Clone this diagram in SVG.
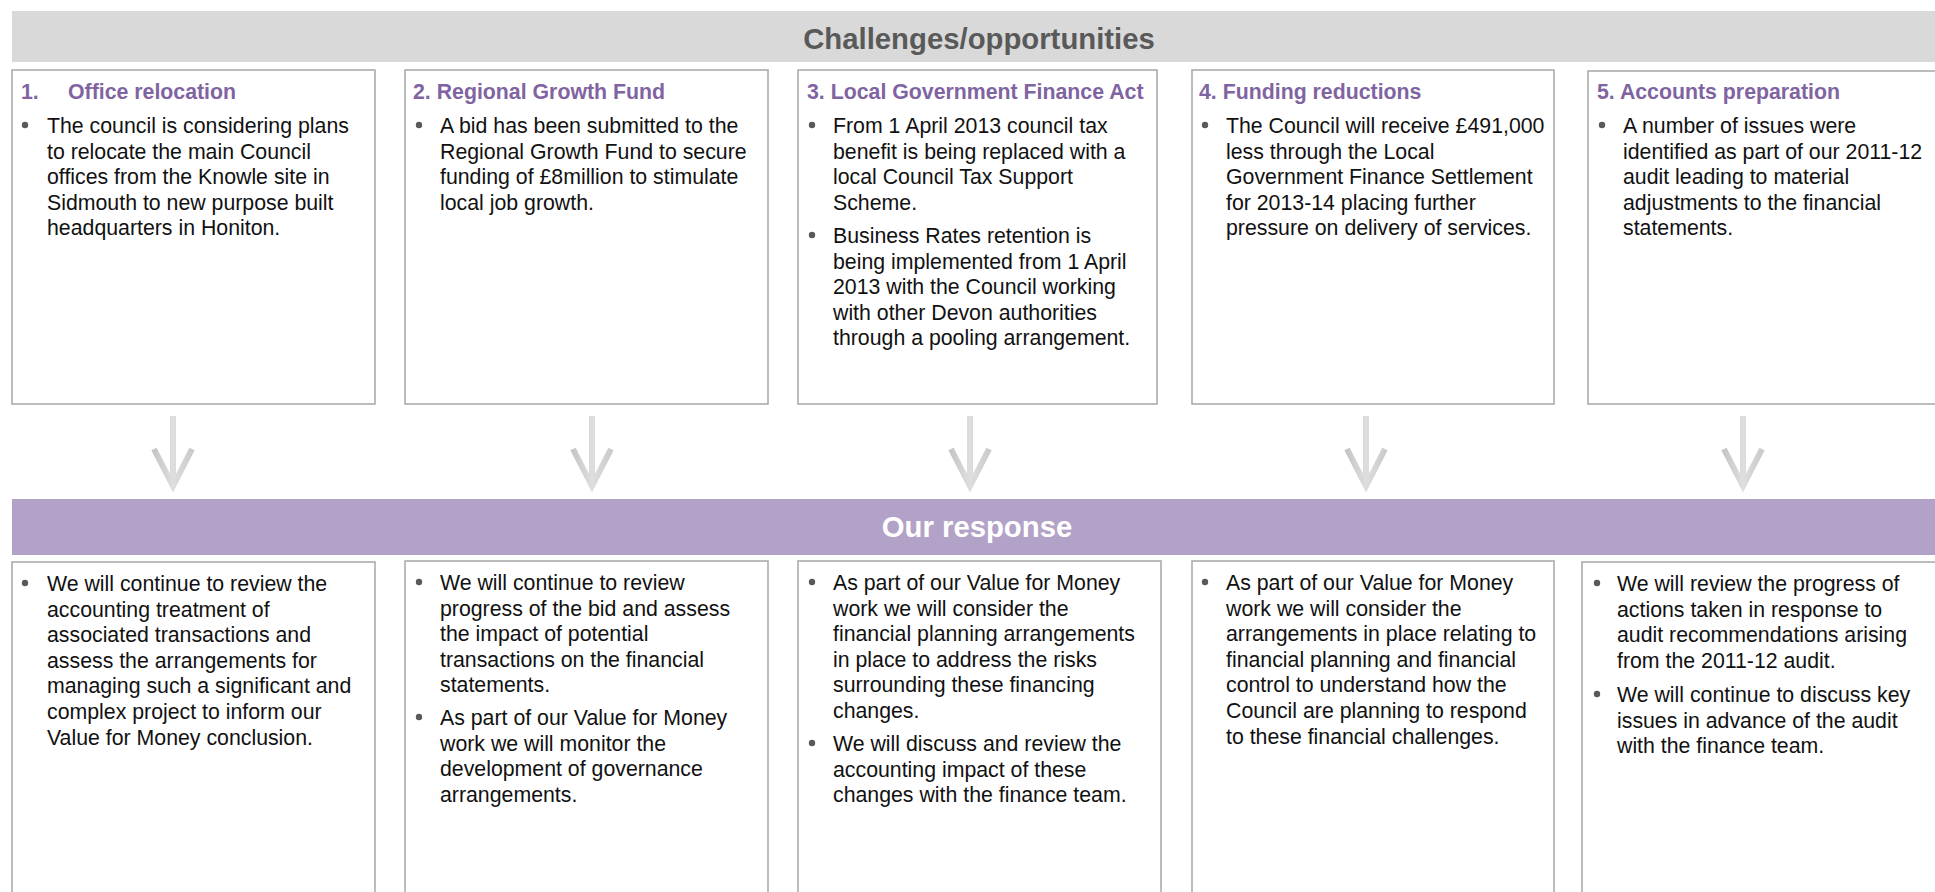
<svg xmlns="http://www.w3.org/2000/svg" width="1935" height="892" viewBox="0 0 1935 892">
  <style>
    text { font-family: "Liberation Sans", Arial, sans-serif; }
    .band-grey { fill: #d9d9d9; }
    .band-purple { fill: #b3a2c7; }
    .head { font-size: 29.3px; font-weight: bold; text-anchor: middle; }
    .head-dark { fill: #595959; }
    .head-light { fill: #ffffff; }
    .box { fill: #ffffff; stroke: #a6a6a6; stroke-width: 1.5; }
    .title { font-size: 21.3px; font-weight: bold; fill: #8064a2; }
    .body { font-size: 21.3px; fill: #111111; }
    .dot { fill: #595959; }
    .arrow { fill: none; stroke-width: 6; stroke-linejoin: miter; stroke-miterlimit: 6; }
  </style>
  <defs>
    <linearGradient id="arrowShade" x1="0" y1="0" x2="1" y2="0">
      <stop offset="0" stop-color="#c6c6c6"/>
      <stop offset="0.5" stop-color="#dedede"/>
      <stop offset="1" stop-color="#cbcbcb"/>
    </linearGradient>
  </defs>

  <rect width="1935" height="892" fill="#ffffff"/>

  <!-- heading bands -->
  <g id="band-challenges">
    <rect class="band-grey" x="12" y="11" width="1935" height="51"/>
    <text class="head head-dark" x="979" y="49">Challenges/opportunities</text>
  </g>
  <g id="band-response">
    <rect class="band-purple" x="12" y="499" width="1935" height="56"/>
    <text class="head head-light" x="977" y="537">Our response</text>
  </g>

  <!-- challenge boxes -->
  <g id="challenge-1">
    <rect class="box" x="12" y="70" width="363" height="334"/>
    <text class="title" x="21" y="99">1.</text>
    <text class="title" x="68" y="99">Office relocation</text>
    <circle class="dot" cx="25" cy="125" r="3.2"/>
    <text class="body" y="133">
      <tspan x="47">The council is considering plans</tspan>
      <tspan x="47" dy="25.6">to relocate the main Council</tspan>
      <tspan x="47" dy="25.6">offices from the Knowle site in</tspan>
      <tspan x="47" dy="25.6">Sidmouth to new purpose built</tspan>
      <tspan x="47" dy="25.6">headquarters in Honiton.</tspan>
    </text>
  </g>

  <g id="challenge-2">
    <rect class="box" x="405" y="70" width="363" height="334"/>
    <text class="title" x="413" y="99">2. Regional Growth Fund</text>
    <circle class="dot" cx="419" cy="125" r="3.2"/>
    <text class="body" y="133">
      <tspan x="440">A bid has been submitted to the</tspan>
      <tspan x="440" dy="25.6">Regional Growth Fund to secure</tspan>
      <tspan x="440" dy="25.6">funding of £8million to stimulate</tspan>
      <tspan x="440" dy="25.6">local job growth.</tspan>
    </text>
  </g>

  <g id="challenge-3">
    <rect class="box" x="798" y="70" width="359" height="334"/>
    <text class="title" x="807" y="99">3. Local Government Finance Act</text>
    <circle class="dot" cx="812" cy="125" r="3.2"/>
    <text class="body" y="133">
      <tspan x="833">From 1 April 2013 council tax</tspan>
      <tspan x="833" dy="25.6">benefit is being replaced with a</tspan>
      <tspan x="833" dy="25.6">local Council Tax Support</tspan>
      <tspan x="833" dy="25.6">Scheme.</tspan>
    </text>
    <circle class="dot" cx="812" cy="235" r="3.2"/>
    <text class="body" y="243">
      <tspan x="833">Business Rates retention is</tspan>
      <tspan x="833" dy="25.6">being implemented from 1 April</tspan>
      <tspan x="833" dy="25.6">2013 with the Council working</tspan>
      <tspan x="833" dy="25.6">with other Devon authorities</tspan>
      <tspan x="833" dy="25.6">through a pooling arrangement.</tspan>
    </text>
  </g>

  <g id="challenge-4">
    <rect class="box" x="1192" y="70" width="362" height="334"/>
    <text class="title" x="1199" y="99">4. Funding reductions</text>
    <circle class="dot" cx="1205" cy="125" r="3.2"/>
    <text class="body" y="133">
      <tspan x="1226">The Council will receive £491,000</tspan>
      <tspan x="1226" dy="25.6">less through the Local</tspan>
      <tspan x="1226" dy="25.6">Government Finance Settlement</tspan>
      <tspan x="1226" dy="25.6">for 2013-14 placing further</tspan>
      <tspan x="1226" dy="25.6">pressure on delivery of services.</tspan>
    </text>
  </g>

  <g id="challenge-5">
    <rect class="box" x="1588" y="71" width="370" height="333"/>
    <text class="title" x="1597" y="99">5. Accounts preparation</text>
    <circle class="dot" cx="1602" cy="125" r="3.2"/>
    <text class="body" y="133">
      <tspan x="1623">A number of issues were</tspan>
      <tspan x="1623" dy="25.6">identified as part of our 2011-12</tspan>
      <tspan x="1623" dy="25.6">audit leading to material</tspan>
      <tspan x="1623" dy="25.6">adjustments to the financial</tspan>
      <tspan x="1623" dy="25.6">statements.</tspan>
    </text>
  </g>

  <!-- connectors: challenge to response -->
  <g id="connectors" class="arrow" stroke="url(#arrowShade)">
    <path d="M173 416 V487 M154 449 L173 486 L192 449"/>
    <path d="M592 416 V487 M573 449 L592 486 L611 449"/>
    <path d="M970 416 V487 M951 449 L970 486 L989 449"/>
    <path d="M1366 416 V487 M1347 449 L1366 486 L1385 449"/>
    <path d="M1743 416 V487 M1724 449 L1743 486 L1762 449"/>
  </g>

  <!-- response boxes -->
  <g id="response-1">
    <rect class="box" x="12" y="562" width="363" height="340"/>
    <circle class="dot" cx="25" cy="583" r="3.2"/>
    <text class="body" y="591">
      <tspan x="47">We will continue to review the</tspan>
      <tspan x="47" dy="25.6">accounting treatment of</tspan>
      <tspan x="47" dy="25.6">associated transactions and</tspan>
      <tspan x="47" dy="25.6">assess the arrangements for</tspan>
      <tspan x="47" dy="25.6">managing such a significant and</tspan>
      <tspan x="47" dy="25.6">complex project to inform our</tspan>
      <tspan x="47" dy="25.6">Value for Money conclusion.</tspan>
    </text>
  </g>

  <g id="response-2">
    <rect class="box" x="405" y="561" width="363" height="341"/>
    <circle class="dot" cx="419" cy="582" r="3.2"/>
    <text class="body" y="590">
      <tspan x="440">We will continue to review</tspan>
      <tspan x="440" dy="25.6">progress of the bid and assess</tspan>
      <tspan x="440" dy="25.6">the impact of potential</tspan>
      <tspan x="440" dy="25.6">transactions on the financial</tspan>
      <tspan x="440" dy="25.6">statements.</tspan>
    </text>
    <circle class="dot" cx="419" cy="717" r="3.2"/>
    <text class="body" y="725">
      <tspan x="440">As part of our Value for Money</tspan>
      <tspan x="440" dy="25.6">work we will monitor the</tspan>
      <tspan x="440" dy="25.6">development of governance</tspan>
      <tspan x="440" dy="25.6">arrangements.</tspan>
    </text>
  </g>

  <g id="response-3">
    <rect class="box" x="798" y="561" width="363" height="341"/>
    <circle class="dot" cx="812" cy="582" r="3.2"/>
    <text class="body" y="590">
      <tspan x="833">As part of our Value for Money</tspan>
      <tspan x="833" dy="25.6">work we will consider the</tspan>
      <tspan x="833" dy="25.6">financial planning arrangements</tspan>
      <tspan x="833" dy="25.6">in place to address the risks</tspan>
      <tspan x="833" dy="25.6">surrounding these financing</tspan>
      <tspan x="833" dy="25.6">changes.</tspan>
    </text>
    <circle class="dot" cx="812" cy="743" r="3.2"/>
    <text class="body" y="751">
      <tspan x="833">We will discuss and review the</tspan>
      <tspan x="833" dy="25.6">accounting impact of these</tspan>
      <tspan x="833" dy="25.6">changes with the finance team.</tspan>
    </text>
  </g>

  <g id="response-4">
    <rect class="box" x="1192" y="561" width="362" height="341"/>
    <circle class="dot" cx="1205" cy="582" r="3.2"/>
    <text class="body" y="590">
      <tspan x="1226">As part of our Value for Money</tspan>
      <tspan x="1226" dy="25.6">work we will consider the</tspan>
      <tspan x="1226" dy="25.6">arrangements in place relating to</tspan>
      <tspan x="1226" dy="25.6">financial planning and financial</tspan>
      <tspan x="1226" dy="25.6">control to understand how the</tspan>
      <tspan x="1226" dy="25.6">Council are planning to respond</tspan>
      <tspan x="1226" dy="25.6">to these financial challenges.</tspan>
    </text>
  </g>

  <g id="response-5">
    <rect class="box" x="1582" y="562" width="376" height="340"/>
    <circle class="dot" cx="1597" cy="583" r="3.2"/>
    <text class="body" y="591">
      <tspan x="1617">We will review the progress of</tspan>
      <tspan x="1617" dy="25.6">actions taken in response to</tspan>
      <tspan x="1617" dy="25.6">audit recommendations arising</tspan>
      <tspan x="1617" dy="25.6">from the 2011-12 audit.</tspan>
    </text>
    <circle class="dot" cx="1597" cy="694" r="3.2"/>
    <text class="body" y="702">
      <tspan x="1617">We will continue to discuss key</tspan>
      <tspan x="1617" dy="25.6">issues in advance of the audit</tspan>
      <tspan x="1617" dy="25.6">with the finance team.</tspan>
    </text>
  </g>
</svg>
